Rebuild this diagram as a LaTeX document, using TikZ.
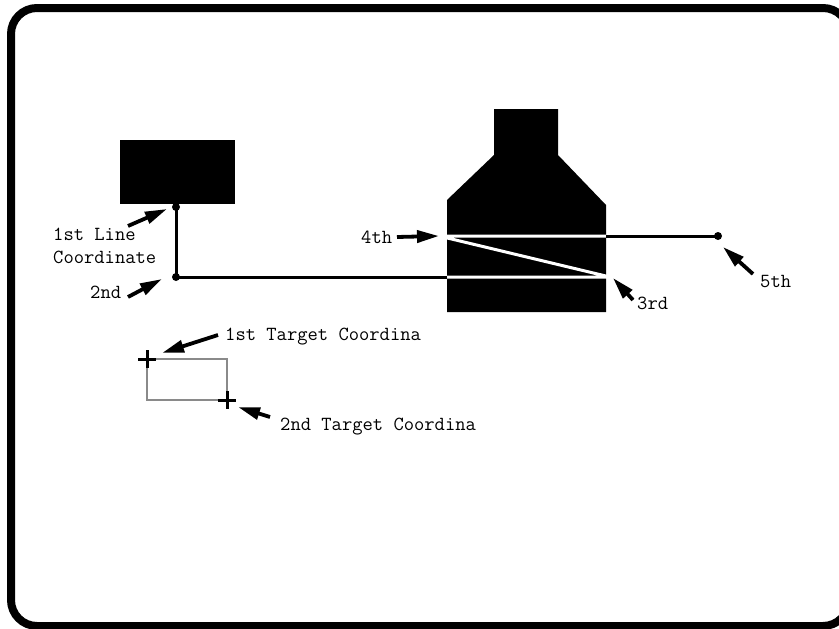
\documentclass[tikz,border=0pt]{standalone}
\usepackage{fontspec}
\usepackage{tikz}
\usetikzlibrary{arrows.meta,positioning}
\newfontfamily\monolabel{Latin Modern Mono}
\definecolor{boxgray}{HTML}{8A8A8A}

\begin{document}
\begin{tikzpicture}[
  x=1pt,y=-1pt,
  lbl/.style={font=\monolabel\fontsize{20}{23}\selectfont,anchor=base west,inner sep=0pt},
  pline/.style={line width=3pt},
  ptr/.style={-{Triangle[length=22pt,width=12pt]},line width=3.8pt},
  dot/.style={circle,fill=black,inner sep=0pt,minimum size=8pt},
  crossmark/.style={line width=3pt}
]
\useasboundingbox (0,0) rectangle (839,629);
% frame
\draw[line width=8pt,rounded corners=26pt] (11,8) rectangle (849,626);
% shapes
\fill (120,140) rectangle (235,204);
\fill (494,109) -- (558,109) -- (558,155) -- (606,205) -- (606,312)
      -- (447,312) -- (447,200) -- (494,155) -- cycle;
\coordinate (bodyL) at (447,260);
\coordinate (bodyR) at (606,260);
% line coordinates
\coordinate (p1) at (176,207);
\coordinate (p2) at (176,277);
\coordinate (p3) at (610,277);
\coordinate (p4) at (439,236);
\coordinate (p5) at (718,236);
\draw[pline] (p1) -- (p2) -- (p2 -| bodyL);
\draw[pline,white] (p2 -| bodyL) -- (p3) -- (p4) -- (p4 -| bodyR);
\draw[pline] (p4 -| bodyR) -- (p5);
\node[dot] (d1) at (p1) {};
\node[dot] (d2) at (p2) {};
\node[dot] (d5) at (p5) {};
% target box
\coordinate (tg1) at (147,359);
\coordinate (tg2) at (227,400);
\draw[boxgray,line width=2.8pt] (tg1) rectangle (tg2);
\draw[crossmark] (tg1) +(-9,0) -- +(9,0) (tg1) +(0,-9) -- +(0,9);
\draw[crossmark] (tg2) +(-9,0) -- +(9,0) (tg2) +(0,-9) -- +(0,9);
% labels
\node[lbl] (lineA) at (53,240) {1st Line};
\node[lbl] (lineB) at (53,263) {Coordinate};
\node[lbl] (second) at (90,298) {2nd};
\node[lbl] (fourth) at (361,243) {4th};
\node[lbl] (third) at (637,309) {3rd};
\node[lbl] (fifth) at (760,287) {5th};
\node[lbl] (tgA) at (225,340) {1st Target Coordina};
\node[lbl] (tgB) at (280,430) {2nd Target Coordina};
% pointers
\coordinate (a1s) at (128,226); \coordinate (a1e) at (167,209);
\coordinate (a2s) at (128,297); \coordinate (a2e) at (162,279);
\coordinate (a4s) at (397,237); \coordinate (a4e) at (439,236);
\coordinate (a3s) at (633,300); \coordinate (a3e) at (613,278);
\coordinate (a5s) at (753,274); \coordinate (a5e) at (723,247);
\coordinate (t1s) at (218,335); \coordinate (t1e) at (162,353);
\coordinate (t2s) at (270,417); \coordinate (t2e) at (238,407);
\draw[ptr] (a1s) -- (a1e); \draw[ptr] (a2s) -- (a2e);
\draw[ptr] (a4s) -- (a4e); \draw[ptr] (a3s) -- (a3e);
\draw[ptr] (a5s) -- (a5e);
\draw[ptr] (t1s) -- (t1e); \draw[ptr] (t2s) -- (t2e);
\end{tikzpicture}
\end{document}
